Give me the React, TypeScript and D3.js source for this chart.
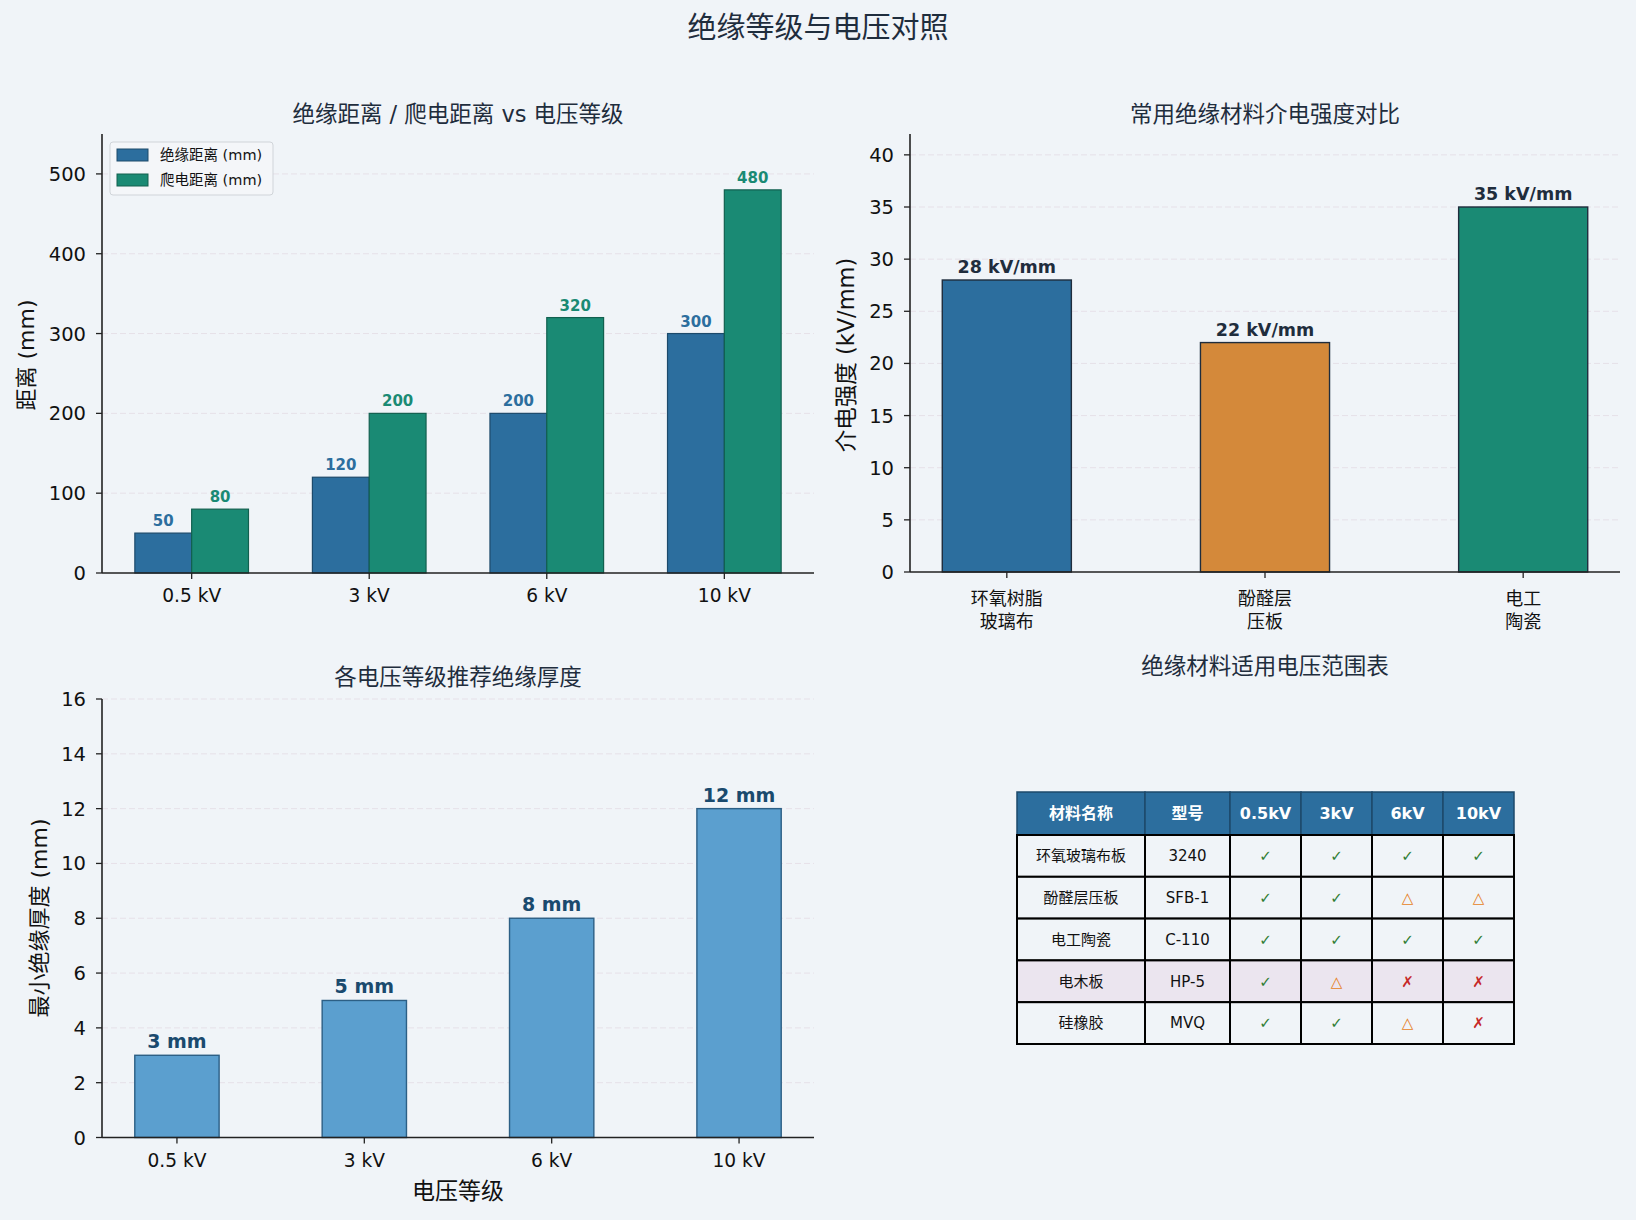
import React from "react"
import * as d3 from "d3"

const voltages = ["0.5 kV", "3 kV", "6 kV", "10 kV"]
const clearance = [50, 120, 200, 300]
const creepage = [80, 200, 320, 480]

const materials = [["环氧树脂", "玻璃布"], ["酚醛层", "压板"], ["电工", "陶瓷"]]
const strength = [28, 22, 35]
const strengthColors = ["#2c6e9e", "#d4893a", "#1a8a74"]

const thickness = [3, 5, 8, 12]

const tableHeader = ["材料名称", "型号", "0.5kV", "3kV", "6kV", "10kV"]
const tableNames = ["环氧玻璃布板", "酚醛层压板", "电工陶瓷", "电木板", "硅橡胶"]
const tableModels = ["3240", "SFB-1", "C-110", "HP-5", "MVQ"]
const tableMarks = [
  ["✓", "✓", "✓", "✓"],
  ["✓", "✓", "△", "△"],
  ["✓", "✓", "✓", "✓"],
  ["✓", "△", "✗", "✗"],
  ["✓", "✓", "△", "✗"],
]

const BG = "#f0f4f8"
const FONT = "'DejaVu Sans', 'Noto Sans CJK SC', sans-serif"
const AXIS = "#222"
const DARK = "#1f2d3d"
const markColor: Record<string, string> = { "✓": "#2e7d32", "△": "#e67e22", "✗": "#c62828" }

function YAxis({ y, x0, x1, ticks }: { y: d3.ScaleLinear<number, number>; x0: number; x1: number; ticks: number[] }) {
  const [b, t] = y.range()
  return (
    <g>
      {ticks.map((v) => (
        <g key={v}>
          {v > 0 && (
            <line x1={x0} x2={x1} y1={y(v)} y2={y(v)} stroke="#e6e0e8" strokeDasharray="6,3" strokeWidth={1} />
          )}
          <line x1={x0 - 6} x2={x0} y1={y(v)} y2={y(v)} stroke={AXIS} strokeWidth={1.3} />
          <text x={x0 - 16} y={y(v)} dy="0.36em" textAnchor="end" fontSize={19.5} fill="#111">
            {v}
          </text>
        </g>
      ))}
      <line x1={x0} x2={x0} y1={b} y2={t} stroke={AXIS} strokeWidth={1.6} />
    </g>
  )
}

function XAxis({ x, y0, x0, x1, labels }: { x: d3.ScaleLinear<number, number>; y0: number; x0: number; x1: number; labels: string[] }) {
  return (
    <g>
      <line x1={x0} x2={x1} y1={y0} y2={y0} stroke={AXIS} strokeWidth={1.6} />
      {labels.map((l, i) => (
        <g key={l}>
          <line x1={x(i)} x2={x(i)} y1={y0} y2={y0 + 6} stroke={AXIS} strokeWidth={1.3} />
          <text x={x(i)} y={y0 + 29} textAnchor="middle" fontSize={18.6} fill="#111">
            {l}
          </text>
        </g>
      ))}
    </g>
  )
}

function DistanceChart() {
  const x = d3.scaleLinear().domain([-0.505, 3.505]).range([102, 814])
  const y = d3.scaleLinear().domain([0, 550]).range([573, 134])
  const w = x(0.32) - x(0)
  return (
    <g>
      <text x={458} y={122} textAnchor="middle" fontSize={22.5} fill={DARK}>
        绝缘距离 / 爬电距离 vs 电压等级
      </text>
      <YAxis y={y} x0={102} x1={814} ticks={d3.range(0, 501, 100)} />
      {voltages.map((v, i) => (
        <g key={v}>
          <rect x={x(i) - w} y={y(clearance[i])} width={w} height={y(0) - y(clearance[i])} fill="#2c6e9e" stroke="#1d4a6b" strokeWidth={1.2} />
          <rect x={x(i)} y={y(creepage[i])} width={w} height={y(0) - y(creepage[i])} fill="#1a8a74" stroke="#12604f" strokeWidth={1.2} />
          <text x={x(i) - w / 2} y={y(clearance[i]) - 7} textAnchor="middle" fontSize={15} fontWeight="bold" fill="#2c6e9e">
            {clearance[i]}
          </text>
          <text x={x(i) + w / 2} y={y(creepage[i]) - 7} textAnchor="middle" fontSize={15} fontWeight="bold" fill="#1a8a74">
            {creepage[i]}
          </text>
        </g>
      ))}
      <XAxis x={x} y0={573} x0={102} x1={814} labels={voltages} />
      <text transform="translate(34,355) rotate(-90)" textAnchor="middle" fontSize={22} fill="#111">
        距离 (mm)
      </text>
      <g>
        <rect x={110} y={142} width={163} height={53} rx={3} fill="#f4f6f9" stroke="#d0d4d9" strokeWidth={1} />
        <rect x={117} y={149} width={31} height={12} fill="#2c6e9e" stroke="#1d4a6b" />
        <rect x={117} y={174} width={31} height={12} fill="#1a8a74" stroke="#12604f" />
        <text x={160} y={160} fontSize={14.5} fill="#111">绝缘距离 (mm)</text>
        <text x={160} y={185} fontSize={14.5} fill="#111">爬电距离 (mm)</text>
      </g>
    </g>
  )
}

function StrengthChart() {
  const x = d3.scaleLinear().domain([-0.375, 2.375]).range([910, 1620])
  const y = d3.scaleLinear().domain([0, 42]).range([572, 134])
  const w = x(0.5) - x(0)
  return (
    <g>
      <text x={1265} y={122} textAnchor="middle" fontSize={22.5} fill={DARK}>
        常用绝缘材料介电强度对比
      </text>
      <YAxis y={y} x0={910} x1={1620} ticks={d3.range(0, 41, 5)} />
      {strength.map((s, i) => (
        <g key={i}>
          <rect x={x(i) - w / 2} y={y(s)} width={w} height={y(0) - y(s)} fill={strengthColors[i]} stroke={DARK} strokeWidth={1.4} />
          <text x={x(i)} y={y(s) - 7} textAnchor="middle" fontSize={17.5} fontWeight="bold" fill={DARK}>
            {s} kV/mm
          </text>
        </g>
      ))}
      <line x1={910} x2={1620} y1={572} y2={572} stroke={AXIS} strokeWidth={1.6} />
      {materials.map((m, i) => (
        <g key={i}>
          <line x1={x(i)} x2={x(i)} y1={572} y2={578} stroke={AXIS} strokeWidth={1.3} />
          {m.map((line, j) => (
            <text key={j} x={x(i)} y={605 + j * 23} textAnchor="middle" fontSize={18} fill="#111">
              {line}
            </text>
          ))}
        </g>
      ))}
      <text transform="translate(854,355) rotate(-90)" textAnchor="middle" fontSize={22.5} fill="#111">
        介电强度 (kV/mm)
      </text>
    </g>
  )
}

function ThicknessChart() {
  const x = d3.scaleLinear().domain([-0.4, 3.4]).range([102, 814])
  const y = d3.scaleLinear().domain([0, 16]).range([1137.5, 699])
  const w = x(0.45) - x(0)
  return (
    <g>
      <text x={458} y={685} textAnchor="middle" fontSize={22.5} fill={DARK}>
        各电压等级推荐绝缘厚度
      </text>
      <YAxis y={y} x0={102} x1={814} ticks={d3.range(0, 17, 2)} />
      {thickness.map((t, i) => (
        <g key={i}>
          <rect x={x(i) - w / 2} y={y(t)} width={w} height={y(0) - y(t)} fill="#5b9fcf" stroke="#2c5f85" strokeWidth={1.4} />
          <text x={x(i)} y={y(t) - 7} textAnchor="middle" fontSize={19} fontWeight="bold" fill="#1a4a6e">
            {t} mm
          </text>
        </g>
      ))}
      <XAxis x={x} y0={1137.5} x0={102} x1={814} labels={voltages} />
      <text x={458} y={1199} textAnchor="middle" fontSize={23} fill="#111">
        电压等级
      </text>
      <text transform="translate(47,918) rotate(-90)" textAnchor="middle" fontSize={22} fill="#111">
        最小绝缘厚度 (mm)
      </text>
    </g>
  )
}

function MaterialTable() {
  const cols = [1017, 1145, 1230, 1301, 1372, 1443, 1514]
  const top = 792
  const headH = 43
  const rowH = 41.8
  return (
    <g>
      <text x={1265} y={674} textAnchor="middle" fontSize={22.5} fill={DARK}>
        绝缘材料适用电压范围表
      </text>
      {tableHeader.map((h, c) => (
        <g key={h}>
          <rect x={cols[c]} y={top} width={cols[c + 1] - cols[c]} height={headH} fill="#2c6e9e" stroke="#1d4a6b" strokeWidth={1.5} />
          <text x={(cols[c] + cols[c + 1]) / 2} y={top + headH / 2} dy="0.35em" textAnchor="middle" fontSize={16} fontWeight="bold" fill="#fff">
            {h}
          </text>
        </g>
      ))}
      {tableNames.map((name, r) => {
        const cells = [name, tableModels[r], ...tableMarks[r]]
        const y0 = top + headH + r * rowH
        return (
          <g key={name}>
            {cells.map((v, c) => (
              <g key={c}>
                <rect x={cols[c]} y={y0} width={cols[c + 1] - cols[c]} height={rowH} fill={r === 3 ? "#ebe5ef" : "#f0f4f8"} stroke="#000" strokeWidth={2} />
                <text
                  x={(cols[c] + cols[c + 1]) / 2}
                  y={y0 + rowH / 2}
                  dy="0.35em"
                  textAnchor="middle"
                  fontSize={c < 2 ? 15 : 15}
                  fill={c < 2 ? "#111" : markColor[v]}
                >
                  {v}
                </text>
              </g>
            ))}
          </g>
        )
      })}
    </g>
  )
}

export default function App() {
  return (
    <svg width={1636} height={1220} style={{ display: "block", position: "absolute", left: 0, top: 0 }} fontFamily={FONT}>
      <rect width={1636} height={1220} fill={BG} />
      <text x={818} y={38} textAnchor="middle" fontSize={29} fill={DARK}>
        绝缘等级与电压对照
      </text>
      <DistanceChart />
      <StrengthChart />
      <ThicknessChart />
      <MaterialTable />
    </svg>
  )
}
